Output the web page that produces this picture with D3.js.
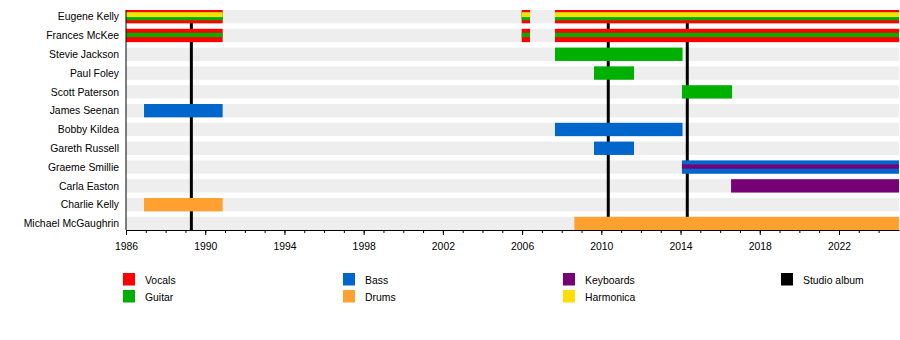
<!DOCTYPE html>
<html>
<head>
<meta charset="utf-8">
<script src="https://cdn.jsdelivr.net/npm/d3@7"></script>
<style>
body{margin:0;background:#fff;}
svg{display:block;font-family:"Liberation Sans",Arial,sans-serif;}
</style>
</head>
<body>
<svg id="chart" width="900" height="340"></svg>
<script>
// ---------- data ----------
const members = ["Eugene Kelly","Frances McKee","Stevie Jackson","Paul Foley","Scott Paterson","James Seenan","Bobby Kildea","Gareth Russell","Graeme Smillie","Carla Easton","Charlie Kelly","Michael McGaughrin"];
const endYear = 2025.03;
// stints: [member, start, end, roles]
const stints = [
  ["Eugene Kelly", 1986.0, 1990.88, ["Vocals","Guitar","Harmonica"]],
  ["Eugene Kelly", 2005.98, 2006.4, ["Vocals","Guitar","Harmonica"]],
  ["Eugene Kelly", 2007.66, endYear, ["Vocals","Guitar","Harmonica"]],
  ["Frances McKee", 1986.0, 1990.88, ["Vocals","Guitar"]],
  ["Frances McKee", 2005.98, 2006.4, ["Vocals","Guitar"]],
  ["Frances McKee", 2007.66, endYear, ["Vocals","Guitar"]],
  ["Stevie Jackson", 2007.66, 2014.1, ["Guitar"]],
  ["Paul Foley", 2009.63, 2011.65, ["Guitar"]],
  ["Scott Paterson", 2014.07, 2016.6, ["Guitar"]],
  ["James Seenan", 1986.91, 1990.88, ["Bass"]],
  ["Bobby Kildea", 2007.66, 2014.1, ["Bass"]],
  ["Gareth Russell", 2009.63, 2011.65, ["Bass"]],
  ["Graeme Smillie", 2014.07, endYear, ["Bass","Keyboards"]],
  ["Carla Easton", 2016.55, endYear, ["Keyboards"]],
  ["Charlie Kelly", 1986.91, 1990.88, ["Drums"]],
  ["Michael McGaughrin", 2008.64, endYear, ["Drums"]]
];
const albums = [1989.3, 2010.35, 2014.34];
const roles = ["Vocals","Guitar","Bass","Drums","Keyboards","Harmonica"];
const roleColors = ["#ff0000","#00b000","#0066cc","#ffa030","#770077","#ffdd00"];
const tickYears = [1986,1990,1994,1998,2002,2006,2010,2014,2018,2022];
const legendItems = ["Vocals","Guitar","Bass","Drums","Keyboards","Harmonica","Studio album"];
const legendColors = ["#ff0000","#00b000","#0066cc","#ffa030","#770077","#ffdd00","#000000"];

// ---------- drawing ----------
const svg = d3.select("#chart");
const x = d3.scaleLinear().domain([1986, endYear]).range([126, 899]);
const step = 18.8;
const y = d3.scaleBand().domain(members)
  .range([10, 10 + step*(members.length - 0.29)])
  .paddingInner(0.29).paddingOuter(0);
const color = d3.scaleOrdinal().domain(roles).range(roleColors);
const axisY = 230;

// row backgrounds
svg.append("g").selectAll("rect").data(members).join("rect")
  .attr("x", x(1986)).attr("width", x(endYear) - x(1986))
  .attr("y", d => y(d)).attr("height", y.bandwidth())
  .attr("fill", "#eeeeee");

// album lines (behind bars)
svg.append("g").selectAll("line").data(albums).join("line")
  .attr("x1", d => x(d)).attr("x2", d => x(d))
  .attr("y1", 10).attr("y2", axisY)
  .attr("stroke", "#000").attr("stroke-width", 3);

// bars
const stripeW = {1:[1], 2:[1,0.32], 3:[1,0.62,0.36]};
const stripeShift = {1:[0], 2:[0,-0.5], 3:[0,-0.5,-2]};
const gBars = svg.append("g");
stints.forEach(s => {
  const [m, a, b, rs] = s;
  const bw = y.bandwidth();
  const cy = y(m) + bw/2;
  rs.forEach((r, i) => {
    const h = bw * stripeW[rs.length][i];
    gBars.append("rect")
      .attr("x", x(a)).attr("width", x(b) - x(a))
      .attr("y", cy - h/2 + stripeShift[rs.length][i]).attr("height", h)
      .attr("fill", color(r));
  });
});

// left axis line
svg.append("line").attr("x1", 126).attr("x2", 126).attr("y1", 10).attr("y2", axisY)
  .attr("stroke", "#000").attr("stroke-width", 1);

// member labels
svg.append("g").selectAll("text").data(members).join("text")
  .attr("x", 119).attr("y", d => y(d) + y.bandwidth()/2)
  .attr("dy", "0.35em").attr("text-anchor", "end")
  .attr("font-size", 10.4).attr("fill", "#000").text(d => d);

// x axis
const minor = d3.range(1986, 2025);
const gx = svg.append("g").attr("transform", `translate(0,${axisY})`);
gx.append("g").call(d3.axisBottom(x).tickValues(minor).tickSize(3).tickFormat(""))
  .call(g => g.select(".domain").remove())
  .call(g => g.selectAll("line").attr("stroke", "#000"));
gx.append("g").call(d3.axisBottom(x).tickValues(tickYears).tickSize(5).tickSizeOuter(0).tickFormat(d3.format("d")))
  .call(g => g.select(".domain").attr("stroke", "#000"))
  .call(g => g.selectAll("line").attr("stroke", "#000"))
  .call(g => g.selectAll("text").attr("font-size", 10.4).attr("fill", "#000")
    .attr("font-family", '"Liberation Sans",Arial,sans-serif').attr("dy", "1.2em"));

// legend (column-major, 2 per column)
const colX = [123, 343, 563, 781];
const lg = svg.append("g").selectAll("g").data(legendItems).join("g")
  .attr("transform", (d, i) => {
    const col = d === "Studio album" ? 3 : Math.floor(i / 2);
    const row = d === "Studio album" ? 0 : i % 2;
    return `translate(${colX[col]},${273 + row*17})`;
  });
lg.append("rect").attr("width", 12).attr("height", 12.5)
  .attr("fill", (d, i) => legendColors[i]);
lg.append("text").attr("x", 22).attr("y", 7.5).attr("dy", "0.35em")
  .attr("font-size", 10.4).attr("fill", "#000").text(d => d);
</script>
</body>
</html>
